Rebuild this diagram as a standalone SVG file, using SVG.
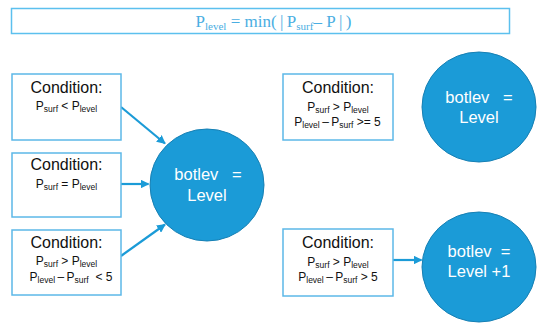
<svg xmlns="http://www.w3.org/2000/svg" width="550" height="330" viewBox="0 0 550 330">
<style>
.box{fill:#fff;stroke:#5cb8e8;stroke-width:1.5}
.circ{fill:#1b9bd7;stroke:#1780b4;stroke-width:1}
.t{font-family:"Liberation Sans",Arial,sans-serif;fill:#111;text-anchor:middle;white-space:pre}
.cond{font-size:16px}
.sm{font-size:12px}
.sub{font-size:8.5px}
.ct{font-family:"Liberation Sans",Arial,sans-serif;fill:#fff;font-size:16.5px;text-anchor:middle;white-space:pre}
.title{font-family:"Liberation Serif","Times New Roman",serif;fill:#4aaee2;font-size:17px;text-anchor:middle}
.tsub{font-size:11px}
.arr{stroke:#1b9bd7;stroke-width:2.2;fill:none;marker-end:url(#ah)}
</style>
<defs>
<marker id="ah" viewBox="0 0 10 10" refX="9" refY="5" markerWidth="4" markerHeight="4" orient="auto" markerUnits="strokeWidth">
<path d="M0,0 L10,5 L0,10 z" fill="#1b9bd7"/>
</marker>
</defs>
<g id="title">
<rect x="11.5" y="8.5" width="498" height="25" fill="#fff" stroke="#5cc0ee" stroke-width="1.5"/>
<text class="title" x="273.5" y="27">P<tspan class="tsub" dy="3">level</tspan><tspan dy="-3"> = min(&#8201;|&#8201;P</tspan><tspan class="tsub" dy="3">surf</tspan><tspan dy="-3">– P&#8201;|&#8201;)</tspan></text>
</g>
<g id="connectors">
<line class="arr" x1="121" y1="107" x2="165" y2="143.5"/>
<line class="arr" x1="121" y1="184" x2="148.5" y2="184"/>
<line class="arr" x1="121" y1="256" x2="165" y2="224.5"/>
<line class="arr" x1="393" y1="260" x2="421.5" y2="260"/>
</g>
<g id="cond1">
<rect class="box" x="12" y="74" width="109" height="66"/>
<text class="t cond" x="66.5" y="93">Condition:</text>
<text class="t sm" x="66.5" y="110">P<tspan class="sub" dy="2">surf</tspan><tspan dy="-2"> &lt; P</tspan><tspan class="sub" dy="2">level</tspan></text>
</g>
<g id="cond2">
<rect class="box" x="12" y="153" width="109" height="64"/>
<text class="t cond" x="66.5" y="170">Condition:</text>
<text class="t sm" x="66.5" y="188">P<tspan class="sub" dy="2">surf</tspan><tspan dy="-2"> = P</tspan><tspan class="sub" dy="2">level</tspan></text>
</g>
<g id="cond3">
<rect class="box" x="12" y="230" width="109" height="65"/>
<text class="t cond" x="66.5" y="248">Condition:</text>
<text class="t sm" x="66.5" y="265">P<tspan class="sub" dy="2">surf</tspan><tspan dy="-2"> &gt; P</tspan><tspan class="sub" dy="2">level</tspan></text>
<text class="t sm" x="71" y="281">P<tspan class="sub" dy="2">level</tspan><tspan dy="-2">&#8201;–&#8201;P</tspan><tspan class="sub" dy="2">surf</tspan><tspan dy="-2">  &lt; 5</tspan></text>
</g>
<g id="cond4">
<rect class="box" x="283" y="74" width="110" height="66"/>
<text class="t cond" x="338" y="93">Condition:</text>
<text class="t sm" x="338" y="111">P<tspan class="sub" dy="2">surf</tspan><tspan dy="-2"> &gt; P</tspan><tspan class="sub" dy="2">level</tspan></text>
<text class="t sm" x="337.5" y="126">P<tspan class="sub" dy="2">level</tspan><tspan dy="-2">&#8201;–&#8201;P</tspan><tspan class="sub" dy="2">surf</tspan><tspan dy="-2"> &gt;= 5</tspan></text>
</g>
<g id="cond5">
<rect class="box" x="283" y="229" width="110" height="67"/>
<text class="t cond" x="338" y="248">Condition:</text>
<text class="t sm" x="338" y="266">P<tspan class="sub" dy="2">surf</tspan><tspan dy="-2"> &gt; P</tspan><tspan class="sub" dy="2">level</tspan></text>
<text class="t sm" x="338" y="281">P<tspan class="sub" dy="2">level</tspan><tspan dy="-2">&#8201;–&#8201;P</tspan><tspan class="sub" dy="2">surf</tspan><tspan dy="-2"> &gt; 5</tspan></text>
</g>
<g id="res1">
<ellipse class="circ" cx="207" cy="185" rx="57" ry="56"/>
<text class="ct" x="208" y="180">botlev   =</text>
<text class="ct" x="207" y="201">Level</text>
</g>
<g id="res2">
<ellipse class="circ" cx="479" cy="107" rx="57" ry="55"/>
<text class="ct" x="479" y="103">botlev   =</text>
<text class="ct" x="479" y="123">Level</text>
</g>
<g id="res3">
<ellipse class="circ" cx="479" cy="267" rx="57" ry="55"/>
<text class="ct" x="479" y="257">botlev  =</text>
<text class="ct" x="479" y="277">Level +1</text>
</g>
</svg>
